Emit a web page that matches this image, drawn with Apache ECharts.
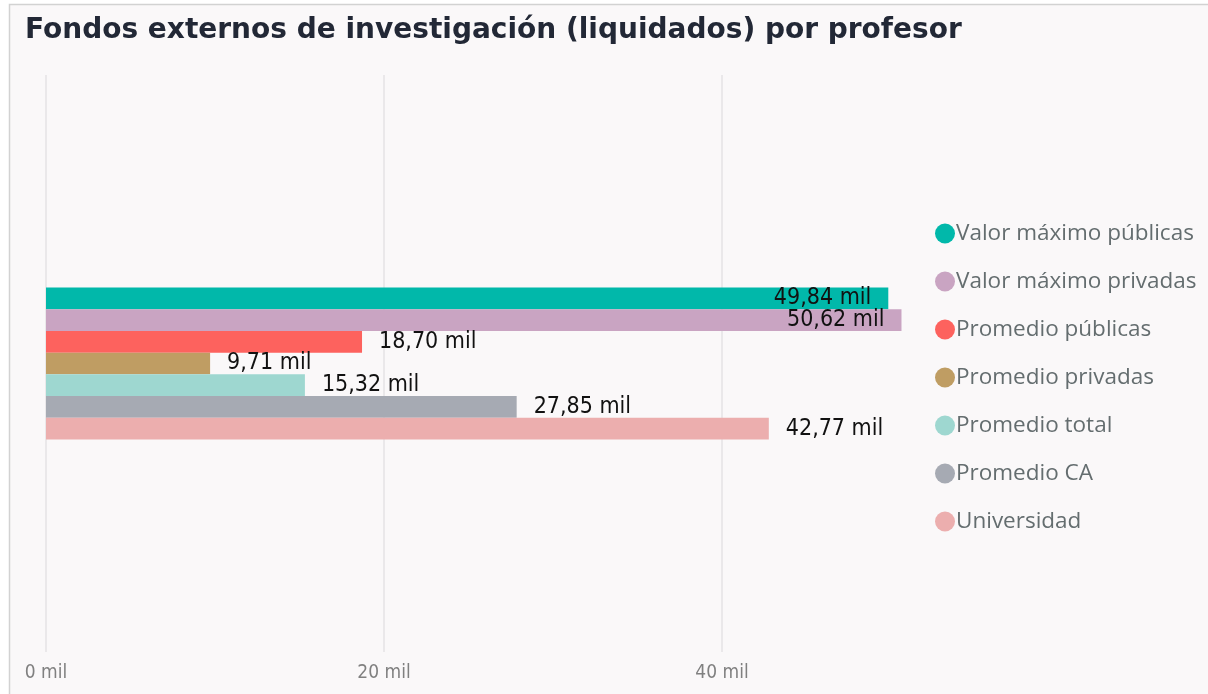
<!DOCTYPE html>
<html>
<head>
<meta charset="utf-8">
<script src="https://cdn.jsdelivr.net/npm/echarts@6/dist/echarts.min.js"></script>
<style>
  html, body { margin: 0; padding: 0; background: #ffffff; }
  #chart { width: 1208px; height: 694px; }
</style>
</head>
<body>
<div id="chart"></div>
<script>
// Fondos externos de investigación liquidados por profesor (miles)
const seriesNames = [
  'Valor máximo públicas',
  'Valor máximo privadas',
  'Promedio públicas',
  'Promedio privadas',
  'Promedio total',
  'Promedio CA',
  'Universidad'
];
const seriesValues = [49.84, 50.62, 18.70, 9.71, 15.32, 27.85, 42.77];
const seriesColors = ['#01B8AA', '#C9A4C2', '#FD625E', '#BF9D63', '#9ED7D0', '#A6AAB3', '#ECAEAE'];
// bars whose label sits inside the bar end
const labelInside = [true, true, false, false, false, false, false];
const xTickStep = 20;
const xMax = 52;

const fmt = v => v.toFixed(2).replace('.', ',') + ' mil';

const chart = echarts.init(document.getElementById('chart'), null, { renderer: 'canvas' });

const series = seriesNames.map((name, i) => ({
  name,
  type: 'bar',
  data: [seriesValues[i]],
  barWidth: 21.7,
  barGap: '0%',
  itemStyle: { color: seriesColors[i] },
  label: {
    show: true,
    position: labelInside[i] ? 'insideRight' : 'right',
    distance: 17,
    formatter: p => fmt(p.value),
    color: '#111111',
    fontFamily: 'DejaVu Sans Condensed',
    fontSize: 23,
    fontWeight: 'normal'
  }
}));

chart.setOption({
  animation: false,
  backgroundColor: 'transparent',
  graphic: [{
    type: 'rect',
    shape: { x: 9.5, y: 4.5, width: 1210, height: 700 },
    style: { fill: '#faf8f9', stroke: '#d2d2d2', lineWidth: 1.5 },
    z: -10,
    silent: true
  }],
  title: {
    text: 'Fondos externos de investigación (liquidados) por profesor',
    left: 20,
    top: 12,
    textStyle: {
      fontFamily: 'DejaVu Sans',
      fontWeight: 'bold',
      fontSize: 28,
      color: '#222836'
    }
  },
  legend: {
    orient: 'vertical',
    left: 930,
    top: 217,
    itemGap: 25,
    itemWidth: 20,
    itemHeight: 20,
    icon: 'circle',
    data: seriesNames,
    textStyle: {
      fontFamily: 'Open Sans',
      fontSize: 22.5,
      color: '#646d6f',
      padding: [0, 0, 0, -4]
    }
  },
  grid: {
    left: 46,
    top: 75,
    width: xMax * 16.9,
    bottom: 42,
    containLabel: false
  },
  xAxis: {
    type: 'value',
    min: 0,
    max: xMax,
    interval: xTickStep,
    axisLine: { show: false },
    axisTick: { show: false },
    splitLine: { showMaxLine: false, lineStyle: { color: '#e5e3e5', width: 1.5 } },
    axisLabel: {
      margin: 12,
      color: '#808080',
      fontFamily: 'DejaVu Sans Condensed',
      fontSize: 19,
      showMaxLabel: false,
      formatter: v => (v % xTickStep === 0 ? v + ' mil' : '')
    }
  },
  yAxis: {
    type: 'category',
    data: [''],
    axisLine: { show: false },
    axisTick: { show: false },
    axisLabel: { show: false }
  },
  series
});
</script>
</body>
</html>
